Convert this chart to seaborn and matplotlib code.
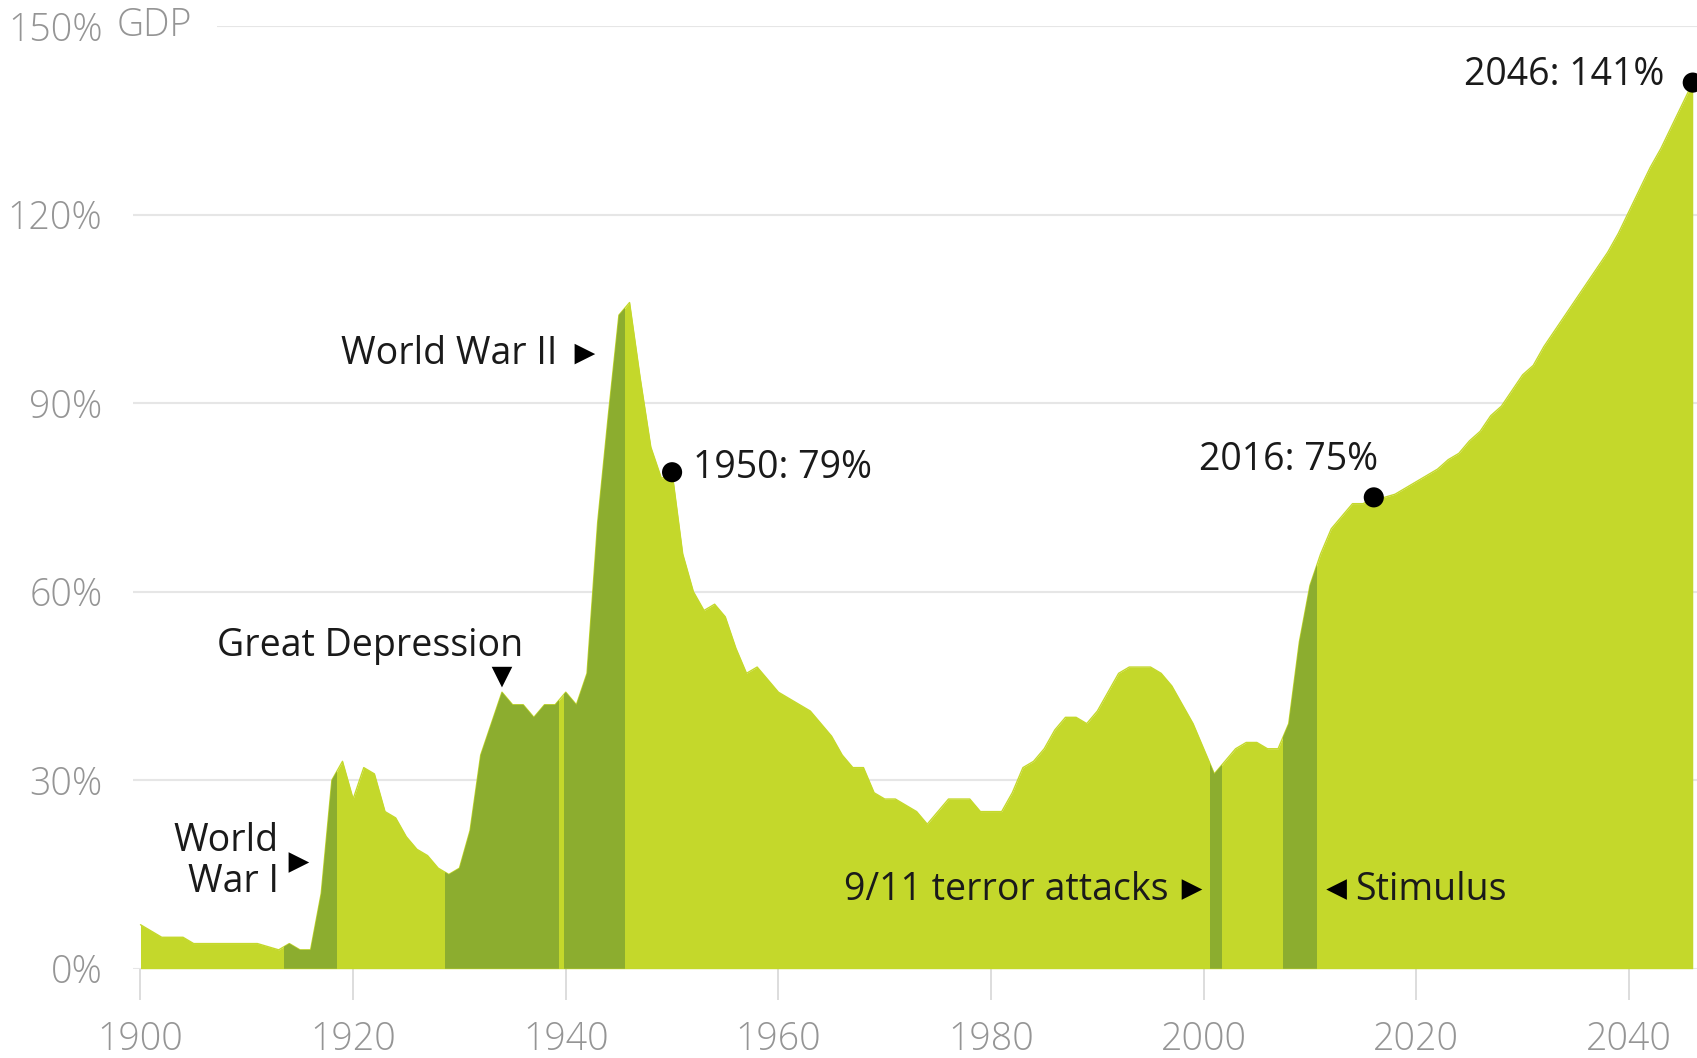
import numpy as np
import matplotlib
matplotlib.use("Agg")
import matplotlib.pyplot as plt
import seaborn as sns

# data: US federal debt held by the public, % of GDP (1900-2046)
years = list(range(1900, 2047))
debt = [
    7, 6, 5, 5, 5, 4, 4, 4, 4, 4,                      # 1900-1909
    4, 4, 3.5, 3, 4, 3, 3, 12, 30, 33,                 # 1910-1919
    27, 32, 31, 25, 24, 21, 19, 18, 16, 15,            # 1920-1929
    16, 22, 34, 39, 44, 42, 42, 40, 42, 42,            # 1930-1939
    44, 42, 47, 71, 88, 104, 106, 94, 83, 78,          # 1940-1949
    79, 66, 60, 57, 58, 56, 51, 47, 48, 46,            # 1950-1959
    44, 43, 42, 41, 39, 37, 34, 32, 32, 28,            # 1960-1969
    27, 27, 26, 25, 23, 25, 27, 27, 27, 25,            # 1970-1979
    25, 25, 28, 32, 33, 35, 38, 40, 40, 39,            # 1980-1989
    41, 44, 47, 48, 48, 48, 47, 45, 42, 39,            # 1990-1999
    35, 31, 33, 35, 36, 36, 35, 35, 39, 52,            # 2000-2009
    61, 66, 70, 72, 74, 74, 75, 75, 75.5, 76.5,        # 2010-2019
    77.5, 78.5, 79.5, 81, 82, 84, 85.5, 88, 89.5, 92,  # 2020-2029
    94.5, 96, 99, 101.5, 104, 106.5, 109, 111.5, 114, 117,  # 2030-2039
    120.5, 124, 127.5, 130.5, 134, 137.5, 141,         # 2040-2046
]

# shaded events (start year, end year)
event_names = ["World War I", "Great Depression", "World War II", "9/11", "Stimulus"]
event_start = [1913.5, 1928.6, 1939.8, 2000.6, 2007.5]
event_end = [1918.5, 1939.4, 1945.6, 2001.7, 2010.7]

# highlighted points
dot_years = [1950, 2016, 2046]
dot_values = [79, 75, 141]

y_ticks = [0, 30, 60, 90, 120, 150]
y_labels = ["0%", "30%", "60%", "90%", "120%", "150%"]
x_ticks = [1900, 1920, 1940, 1960, 1980, 2000, 2020, 2040]

LIGHT = "#c4d82b"
DARK = "#8cad2f"
GREY = "#959595"

sns.set_theme(style="white")
plt.rcParams["font.family"] = ["Open Sans", "DejaVu Sans"]

fig = plt.figure(figsize=(16.97, 10.58), dpi=100)
ax = fig.add_axes([0.0784, 0.0844, 0.9216, 0.891])

# gridlines (the top one starts after the "GDP" label)
grid_start = [1899.3, 1899.3, 1899.3, 1899.3, 1899.3, 1907.2]
ax.hlines(y_ticks, grid_start, 2046.4, color="#e6e6e6", lw=1.5, zorder=0)

area = ax.fill_between(years, debt, 0, color=LIGHT, lw=0, zorder=1)
sns.lineplot(x=years, y=debt, ax=ax, color=LIGHT, lw=1, zorder=1)

# darker event bands, clipped to the area shape
clip = area.get_paths()[0]
for a, b in zip(event_start, event_end):
    span = ax.axvspan(a, b, color=DARK, lw=0, zorder=2)
    span.set_clip_path(clip, ax.transData)

sns.scatterplot(x=dot_years, y=dot_values, ax=ax, color="black", s=210,
                edgecolor="none", zorder=5, clip_on=False)

ax.set_xlim(1899.3, 2046.4)
ax.set_ylim(0, 150)
ax.set_xticks(x_ticks)
ax.set_yticks(y_ticks)
ax.set_yticklabels(y_labels)
for s in ax.spines.values():
    s.set_visible(False)
ax.tick_params(axis="y", length=0, pad=22, labelsize=27, labelcolor=GREY)
ax.tick_params(axis="x", length=22, width=1.4, color="#dddddd", pad=15,
               labelsize=27, labelcolor=GREY, bottom=True)
for lab in ax.get_xticklabels() + ax.get_yticklabels():
    lab.set_fontweight("light")
ax.text(1897.8, 150, "GDP", ha="left", va="center", fontsize=27,
        color=GREY, fontweight="light", clip_on=False)
ax.set_xlabel("")
ax.set_ylabel("")

# annotations
txt = dict(fontsize=27, color="#1a1a1a", zorder=6)
tri = dict(color="black", s=220, edgecolor="none", zorder=6, clip_on=False)

ax.text(1913.0, 17.0, "World\nWar I", ha="right", va="center",
        multialignment="right", linespacing=1.1, **txt)
ax.scatter([1914.9], [16.9], marker=">", **tri)

ax.text(1921.6, 51.3, "Great Depression", ha="center", va="center", **txt)
ax.scatter([1934.0], [46.4], marker="v", **tri)

ax.text(1939.2, 97.8, "World War II", ha="right", va="center", **txt)
ax.scatter([1941.8], [97.8], marker=">", **tri)

ax.text(1952.0, 79.6, "1950: 79%", ha="left", va="center", **txt)
ax.text(2008.0, 80.9, "2016: 75%", ha="center", va="center", **txt)
ax.text(2043.3, 142.2, "2046: 141%", ha="right", va="center", **txt)

ax.text(1996.7, 12.6, "9/11 terror attacks", ha="right", va="center", **txt)
ax.scatter([1998.9], [12.6], marker=">", **tri)
ax.scatter([2012.5], [12.6], marker="<", **tri)
ax.text(2014.2, 12.6, "Stimulus", ha="left", va="center", **txt)

fig.savefig("out.png", dpi=100)
